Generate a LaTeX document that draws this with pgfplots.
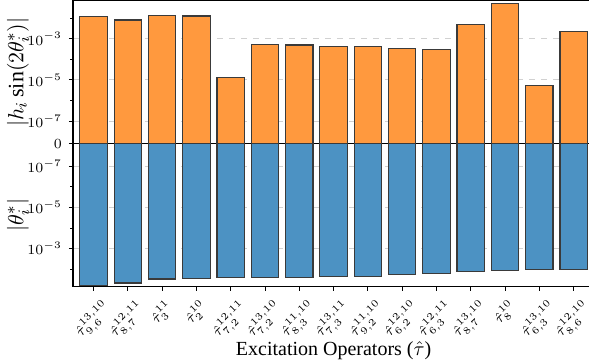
\documentclass[border=0pt]{standalone}
\usepackage{pgfplots}
\pgfplotsset{compat=1.18}
\usepackage{fontspec}
\setmainfont{Liberation Serif}
\definecolor{barorange}{HTML}{FF993E}
\definecolor{barblue}{HTML}{4C92C3}
\definecolor{edgegray}{HTML}{3A3A3A}

\begin{document}
\begin{tikzpicture}
\begin{axis}[name=top,
    scale only axis, width=260.6pt, height=71.5pt,
    xmin=-0.6, xmax=14.6,
    ymode=log, ymin=7.94e-9, ymax=0.0708, log origin=infty,
    ytick={1e-7,1e-5,1e-3},
    minor ytick={1e-6,1e-4,1e-2},
    ymajorgrids, major grid style={dashed, black!18, line width=0.4pt},
    tick align=outside, major tick length=2pt, minor tick length=1.3pt,
    tick style={black, line width=0.45pt},
    ytick pos=left,
    axis line style={line width=0.55pt},
    ticklabel style={font=\fontsize{7}{8}\selectfont},
    xtick=\empty,
    ylabel={$|h_i\sin(2\theta_i^*)|$},
    ylabel style={at={(rel axis cs:0,0.5)}, yshift=27.5pt, anchor=center, font=\fontsize{11}{12}\selectfont},
    extra y ticks={7.94e-9}, extra y tick labels={$0$},
    extra y tick style={grid=none}]
\addplot[ybar, bar width=0.8, fill=barorange, draw=edgegray, line width=0.6pt] coordinates {
(0,0.0120) (1,0.0080) (2,0.0135) (3,0.0126) (4,1.35e-5) (5,5.0e-4) (6,4.9e-4)
(7,4.3e-4) (8,4.2e-4) (9,3.4e-4) (10,2.9e-4) (11,5.1e-3) (12,0.050) (13,5.2e-6) (14,2.2e-3)};
\coordinate (TL) at (rel axis cs:0,1);
\draw[black, line width=1pt] (rel axis cs:0,0) -- (rel axis cs:1,0);
\end{axis}
\begin{axis}[at={(top.south west)}, anchor=north west,
    scale only axis, width=260.6pt, height=71.5pt,
    xmin=-0.6, xmax=14.6,
    ymode=log, ymin=7.94e-9, ymax=0.0708, log origin=infty,
    y dir=reverse,
    ytick={1e-7,1e-5,1e-3},
    minor ytick={1e-6,1e-4,1e-2},
    ymajorgrids, major grid style={dashed, black!18, line width=0.4pt},
    tick align=outside, major tick length=2pt, minor tick length=1.3pt,
    tick style={black, line width=0.45pt},
    ytick pos=left, xtick pos=bottom,
    axis line style={line width=0.55pt},
    ticklabel style={font=\fontsize{7}{8}\selectfont},
    ylabel={$|\theta_i^*|$},
    ylabel style={at={(rel axis cs:0,0.5)}, yshift=27.5pt, anchor=center, font=\fontsize{11}{12}\selectfont},
  xtick={0,...,14},
  xticklabels={
    {\rotatebox{45}{$\hat{\tau}^{13,10}_{9,6}$}},
    {\rotatebox{45}{$\hat{\tau}^{12,11}_{8,7}$}},
    {\rotatebox{45}{$\hat{\tau}^{11}_{3}$}},
    {\rotatebox{45}{$\hat{\tau}^{10}_{2}$}},
    {\rotatebox{45}{$\hat{\tau}^{12,11}_{7,2}$}},
    {\rotatebox{45}{$\hat{\tau}^{13,10}_{7,2}$}},
    {\rotatebox{45}{$\hat{\tau}^{11,10}_{8,3}$}},
    {\rotatebox{45}{$\hat{\tau}^{13,11}_{7,3}$}},
    {\rotatebox{45}{$\hat{\tau}^{11,10}_{9,2}$}},
    {\rotatebox{45}{$\hat{\tau}^{12,10}_{6,2}$}},
    {\rotatebox{45}{$\hat{\tau}^{12,11}_{6,3}$}},
    {\rotatebox{45}{$\hat{\tau}^{13,10}_{8,7}$}},
    {\rotatebox{45}{$\hat{\tau}^{10}_{8}$}},
    {\rotatebox{45}{$\hat{\tau}^{13,10}_{6,3}$}},
    {\rotatebox{45}{$\hat{\tau}^{12,10}_{8,6}$}}},
  xticklabel style={font=\fontsize{6.8}{8}\selectfont, anchor=north, yshift=-0.5pt},
  xlabel={Excitation Operators ($\hat{\tau}$)},
  xlabel style={at={(rel axis cs:0.5,0)}, yshift=-32pt, anchor=center, font=\fontsize{10}{12}\selectfont}]
\addplot[ybar, bar width=0.8, fill=barblue, draw=edgegray, line width=0.6pt] coordinates {
(0,0.063) (1,0.047) (2,0.030) (3,0.029) (4,0.026) (5,0.026) (6,0.025)
(7,0.023) (8,0.022) (9,0.019) (10,0.017) (11,0.013) (12,0.0113) (13,0.0108) (14,0.0100)};
\end{axis}
\pgfresetboundingbox
\path[use as bounding box] ([xshift=-36.5pt, yshift=0.3pt]TL) rectangle ++(294.5pt,-182pt);
\end{tikzpicture}
\end{document}
